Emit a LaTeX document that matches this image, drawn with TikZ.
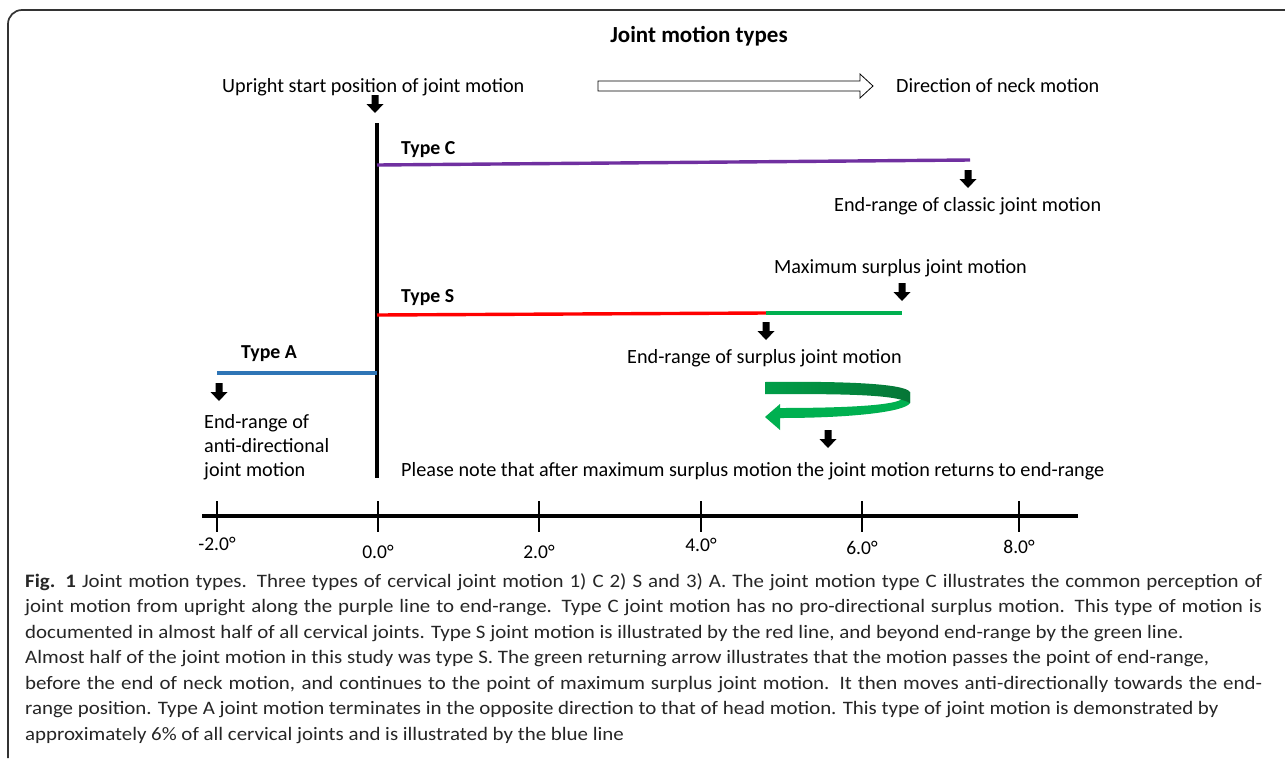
\documentclass[tikz,border=0pt]{standalone}
\usepackage{fontspec}
\setmainfont{Carlito}
\newfontfamily\capfont[FakeStretch=1.1]{Carlito}
\definecolor{typec}{HTML}{7030A0}
\definecolor{types}{HTML}{FF0000}
\definecolor{typea}{HTML}{2E75B6}
\definecolor{surplus}{HTML}{00B050}
\definecolor{darkgreen}{HTML}{078A40}
\definecolor{framecol}{HTML}{333333}
\begin{document}
\begin{tikzpicture}[x=1pt,y=-1pt,
  lbl/.style={font=\fontsize{20.2}{24}\selectfont, inner sep=0pt, anchor=base west},
  blbl/.style={font=\fontsize{19.8}{24}\selectfont\bfseries, inner sep=0pt, anchor=base west},
  ticklbl/.style={font=\fontsize{19.5}{23}\selectfont, inner sep=0pt, anchor=base},
  capline/.style={font=\capfont\fontsize{19}{22}\selectfont, inner sep=0pt, anchor=base west, text=black!85},
  motion/.style={line width=3.4pt},
  tick/.style={line width=2.6pt},
  dnarrow/.pic={\fill[black] (-3.5,0) -- (3.5,0) -- (3.5,9) -- (8.5,9) -- (0,18) -- (-8.5,9) -- (-3.5,9) -- cycle;}
]
\useasboundingbox (0,0) rectangle (1285,761);
\fill[white] (0,0) rectangle (1285,761);
% frame
\draw[framecol, line width=1.7pt] (8,758) -- (8,24) arc[start angle=180, end angle=270, radius=14] -- (1286,10);

% title and header
\node[font=\fontsize{23}{27}\selectfont\bfseries, inner sep=0pt, anchor=base] (title) at (699,42) {Joint motion types};
\node[lbl] (upright) at (222,92) {Upright start position of joint motion};
\node[lbl] (direction) at (896,92) {Direction of neck motion};
\draw[line width=0.8pt, fill=white] (598,81) -- (860,81) -- (860,74) -- (873,86) -- (860,98) -- (860,91) -- (598,91) -- cycle;

% vertical start line
\coordinate (vtop) at (377,123);
\coordinate (vbot) at (377,478);
\draw[line width=4pt] (vtop) -- (vbot);
\pic at (375,95) {dnarrow};

% Type C
\node[blbl] (typeC) at (401,154) {Type C};
\coordinate (cstart) at (377,165);
\coordinate (cend) at (970,160);
\draw[motion, typec] (cstart) -- (cend);
\pic at (968,170) {dnarrow};
\node[lbl] (endclassic) at (834,211) {End-range of classic joint motion};

% Type S
\node[lbl] (maxsurplus) at (774,273) {Maximum surplus joint motion};
\pic at (902,283) {dnarrow};
\node[blbl] (typeS) at (401,302) {Type S};
\coordinate (sstart) at (377,315);
\coordinate (smid) at (766,313);
\coordinate (send) at (902,313);
\draw[motion, types] (sstart) -- (smid);
\draw[motion, surplus] (smid) -- (send);
\pic at (766,322) {dnarrow};
\node[lbl] (endsurplus) at (627,363) {End-range of surplus joint motion};

% Type A
\node[blbl] (typeA) at (241,358) {Type A};
\coordinate (astart) at (377,373);
\coordinate (aend) at (217,373);
\draw[motion, typea] (astart) -- (aend);
\pic at (219,383) {dnarrow};
\node[lbl] (antiA) at (204,428) {End-range of};
\node[lbl] (antiB) at (204,452) {anti-directional};
\node[lbl] (antiC) at (204,476) {joint motion};

% green returning arrow
\fill[surplus] (910,392) -- (910,403) .. controls (905,412) and (850,418) .. (780,418)
  -- (780,430) -- (765,417) -- (780,404) -- (780,408)
  .. controls (850,408) and (895,405) .. (902,399) -- cycle;
\shade[left color=surplus!90!black, right color=darkgreen!85!black] (765,382) .. controls (850,381) and (905,384) .. (910,392) -- (910,403)
  .. controls (895,394) and (840,394) .. (765,394) -- cycle;
\pic at (828,430) {dnarrow};
\node[lbl] (note) at (401,476) {Please note that after maximum surplus motion the joint motion returns to end-range};

% axis
\coordinate (axl) at (202,516);
\coordinate (axr) at (1078,516);
\draw[line width=4.2pt] (axl) -- (axr);
\foreach \x/\lab/\by in {217/-2.0/550, 378/0.0/558, 539/2.0/558, 701/4.0/551, 862/6.0/554, 1019/8.0/553}{
  \draw[tick] (\x,501) -- (\x,532);
  \node[ticklbl] at (\x,\by) {\lab°};
}

% caption
\node[capline] (cap1) at (25,587) {\makebox[1237pt][s]{\bfseries Fig. 1\mdseries\ Joint motion types. Three types of cervical joint motion 1) C 2) S and 3) A. The joint motion type C illustrates the common perception of}};
\node[capline] (cap2) at (25,612.5) {\makebox[1237pt][s]{joint motion from upright along the purple line to end-range. Type C joint motion has no pro-directional surplus motion. This type of motion is}};
\node[capline] (cap3) at (25,638) {documented in almost half of all cervical joints. Type S joint motion is illustrated by the red line, and beyond end-range by the green line.};
\node[capline] (cap4) at (25,663.5) {Almost half of the joint motion in this study was type S. The green returning arrow illustrates that the motion passes the point of end-range,};
\node[capline] (cap5) at (25,689) {\makebox[1237pt][s]{before the end of neck motion, and continues to the point of maximum surplus joint motion. It then moves anti-directionally towards the end-}};
\node[capline] (cap6) at (25,714.5) {range position. Type A joint motion terminates in the opposite direction to that of head motion. This type of joint motion is demonstrated by};
\node[capline] (cap7) at (25,740) {approximately 6\% of all cervical joints and is illustrated by the blue line};
\end{tikzpicture}
\end{document}
